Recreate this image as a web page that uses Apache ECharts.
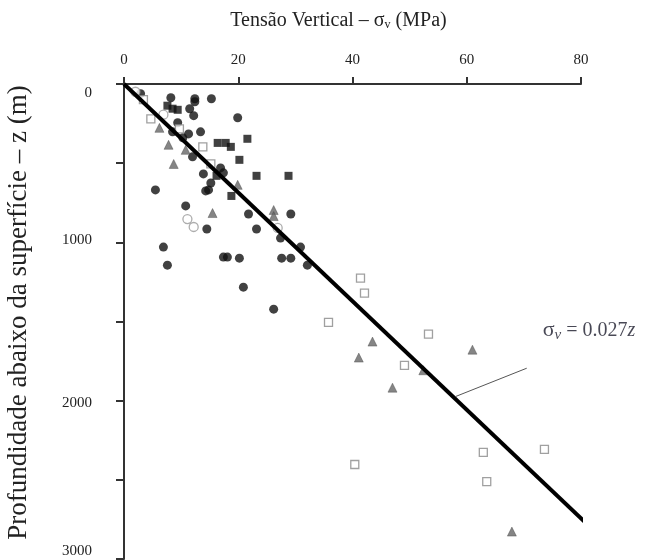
<!DOCTYPE html>
<html><head><meta charset="utf-8">
<script src="https://cdn.jsdelivr.net/npm/echarts@6/dist/echarts.min.js"></script>
<style>html,body{margin:0;padding:0;background:#fff}#c{width:668px;height:560px}</style>
</head><body><div id="c"></div>
<script>
// Data (σv in MPa, z in m)
const blackCircles = [[2.9,61],[8.2,87],[12.4,93],[15.3,93],[12.4,112],[11.5,156],[12.2,200],[19.9,213],[9.4,245],[8.5,302],[13.4,302],[11.3,315],[10.3,340],[12.0,460],[13.9,568],[15.2,625],[14.8,669],[14.3,675],[5.5,669],[10.8,770],[21.8,821],[29.2,821],[14.5,916],[23.2,916],[6.9,1030],[7.6,1144],[17.4,1093],[18.1,1093],[20.2,1100],[27.6,1100],[29.2,1100],[32.1,1144],[20.9,1283],[26.2,1422],[27.4,973],[16.9,530],[17.4,561],[30.9,1030]];
const blackSquares = [[7.6,137],[8.5,156],[9.4,163],[21.6,346],[16.4,372],[17.8,372],[18.7,397],[20.2,479],[23.2,580],[28.8,580],[16.2,580],[18.8,707]];
const grayTriangles = [[6.2,277],[7.8,384],[10.8,416],[8.7,505],[15.5,815],[26.2,796],[26.2,834],[19.9,637],[43.5,1627],[41.1,1728],[47.0,1918],[61.0,1678],[67.9,2827],[52.4,1808]];
const openSquares = [[4.7,220],[9.7,283],[13.8,397],[3.4,99],[15.2,505],[41.4,1226],[42.1,1321],[35.8,1505],[53.3,1580],[49.1,1777],[62.9,2327],[73.6,2308],[40.4,2403],[63.5,2511]];
const openCircles = [[6.9,194],[11.1,853],[12.2,903],[26.9,909],[2.0,49]];
const trendLine = [[0,0],[82.8,2840]];
const leader = [[58.1,1973],[70.5,1795]];
const labelPoint = [[73.3,1557]];
const xTickValues = [0,20,40,60,80];
const yTickLabels = [0,1000,2000,3000];

const serif = '"Liberation Serif","Times New Roman",serif';
const chart = echarts.init(document.getElementById('c'));
const yShift = {0:[18,0,0,0],1000:[0,0,5,0],2000:[5,0,0,0],3000:[0,0,16,0]};
chart.setOption({
  animation:false,
  grid:{left:124,top:84,right:87,bottom:1,containLabel:false,outerBoundsMode:'none'},
  xAxis:{type:'value',position:'top',min:0,max:80,interval:20,
    name:'Tensão Vertical – σ{sub|v} (MPa)',nameLocation:'middle',nameGap:53,nameMoveOverlap:false,
    nameTextStyle:{fontFamily:serif,fontSize:20,color:'#222',padding:[0,28,0,0],
      rich:{sub:{fontFamily:serif,fontSize:12,color:'#222',verticalAlign:'bottom',padding:[7,0,0,0]}}},
    axisLine:{lineStyle:{color:'#333',width:2}},
    axisTick:{show:true,length:7,lineStyle:{color:'#333',width:2}},
    axisLabel:{fontFamily:serif,fontSize:15,color:'#222',margin:16,
      formatter:v=>xTickValues.includes(v)?String(v):''},
    splitLine:{show:false}},
  yAxis:{type:'value',inverse:true,min:0,max:3000,interval:500,
    name:'Profundidade abaixo da superfície – z (m)',nameLocation:'middle',nameGap:92,nameMoveOverlap:false,
    nameTextStyle:{fontFamily:serif,fontSize:27,color:'#222',padding:[0,0,0,18]},
    axisLine:{lineStyle:{color:'#333',width:2}},
    axisTick:{show:true,length:8,lineStyle:{color:'#333',width:2}},
    axisLabel:{fontFamily:serif,fontSize:15,color:'#222',margin:32,
      formatter:v=>yTickLabels.includes(v)?'{l'+v+'|'+v+'}':'',
      rich:Object.fromEntries(yTickLabels.map(v=>['l'+v,{fontFamily:serif,fontSize:15,color:'#222',padding:yShift[v]}]))},
    splitLine:{show:false}},
  series:[
    {type:'scatter',data:blackCircles,symbol:'circle',symbolSize:9,itemStyle:{color:'#111'},z:3},
    {type:'scatter',data:blackSquares,symbol:'rect',symbolSize:8,itemStyle:{color:'#111'},z:3},
    {type:'scatter',data:grayTriangles,symbol:'triangle',symbolSize:9,itemStyle:{color:'#666',borderColor:'#444',borderWidth:0.5},z:3},
    {type:'scatter',data:openSquares,symbol:'rect',symbolSize:8,itemStyle:{color:'#fff',borderColor:'#888',borderWidth:1.3},z:3},
    {type:'scatter',data:openCircles,symbol:'circle',symbolSize:9,itemStyle:{color:'#fff',borderColor:'#999',borderWidth:1.3},z:3},
    {type:'line',data:trendLine,symbol:'none',clip:false,lineStyle:{color:'#000',width:4},z:4},
    {type:'line',data:leader,symbol:'none',clip:false,lineStyle:{color:'#555',width:1},z:4},
    {type:'scatter',data:labelPoint,symbolSize:0,silent:true,
      label:{show:true,position:'right',distance:0,
        formatter:'{s|σ}{v|v}{e| = 0.027}{z|z}',
        rich:{s:{fontFamily:serif,fontSize:22,color:'#1a1a2a'},
          v:{fontFamily:serif,fontSize:15,fontStyle:'italic',color:'#1a1a2a',verticalAlign:'bottom',padding:[10,0,0,0]},
          e:{fontFamily:serif,fontSize:20,color:'#1a1a2a'},
          z:{fontFamily:serif,fontSize:20,fontStyle:'italic',color:'#1a1a2a'}}}}
  ]
});
</script></body></html>
